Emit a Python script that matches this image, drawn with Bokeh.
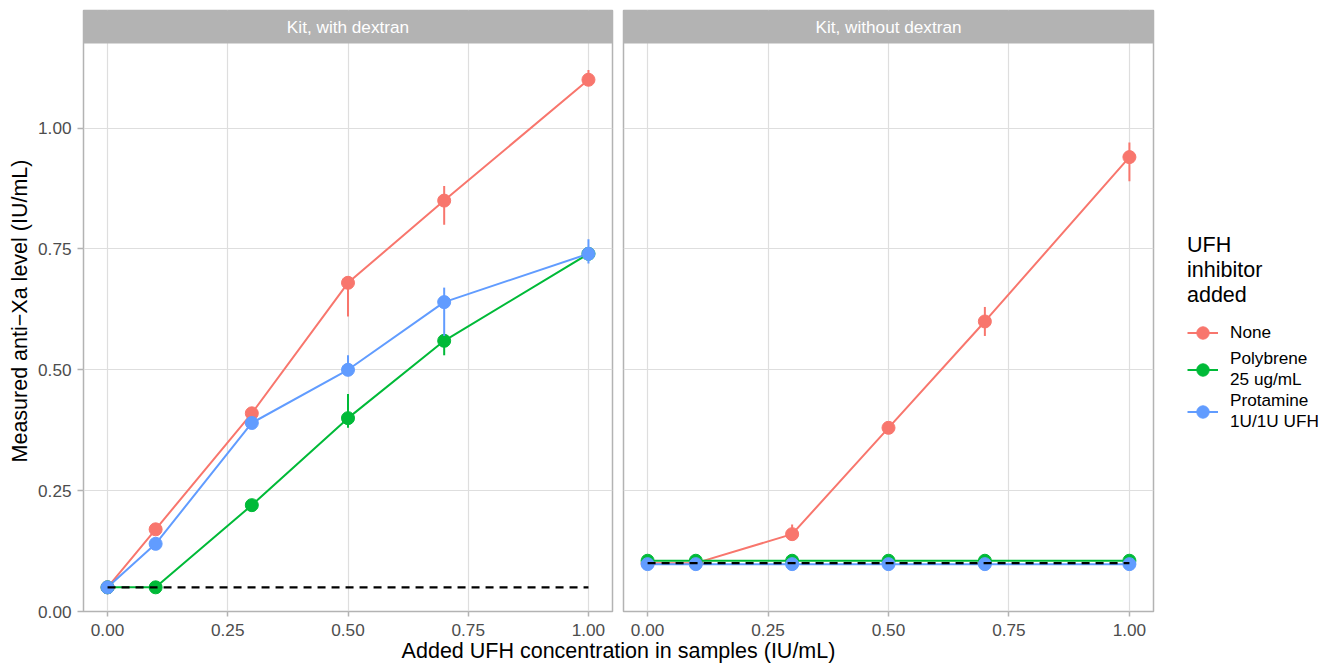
from bokeh.plotting import figure
from bokeh.models import (FixedTicker, PrintfTickFormatter, Legend, LegendItem,
                          Range1d)
from bokeh.layouts import row, column
from bokeh.core.properties import value
from bokeh.embed import file_html
from bokeh.resources import INLINE

# ---------------- data ----------------
conc = [0.0, 0.1, 0.3, 0.5, 0.7, 1.0]
facets = ["Kit, with dextran", "Kit, without dextran"]
inhibitors = ["None", "Polybrene\n25 ug/mL", "Protamine\n1U/1U UFH"]
colors = ["#F8766D", "#00BA38", "#619CFF"]
legend_title = "UFH\ninhibitor\nadded"
x_title = "Added UFH concentration in samples (IU/mL)"
y_title = "Measured anti\u2212Xa level (IU/mL)"
tick_vals = [0.0, 0.25, 0.5, 0.75, 1.0]

# Kit, with dextran
none_dex    = [0.05, 0.17, 0.41, 0.68, 0.85, 1.10]
none_dex_lo = [0.05, 0.17, 0.41, 0.61, 0.80, 1.09]
none_dex_hi = [0.05, 0.17, 0.41, 0.69, 0.88, 1.12]
poly_dex    = [0.05, 0.05, 0.22, 0.40, 0.56, 0.74]
poly_dex_lo = [0.05, 0.05, 0.22, 0.38, 0.53, 0.74]
poly_dex_hi = [0.05, 0.05, 0.22, 0.45, 0.57, 0.74]
prot_dex    = [0.05, 0.14, 0.39, 0.50, 0.64, 0.74]
prot_dex_lo = [0.05, 0.14, 0.39, 0.49, 0.57, 0.72]
prot_dex_hi = [0.05, 0.14, 0.39, 0.53, 0.67, 0.77]
baseline_dex = 0.05

# Kit, without dextran
none_nodex    = [0.10, 0.10, 0.16, 0.38, 0.60, 0.94]
none_nodex_lo = [0.10, 0.10, 0.15, 0.37, 0.57, 0.89]
none_nodex_hi = [0.10, 0.10, 0.18, 0.39, 0.63, 0.97]
poly_nodex    = [0.105, 0.105, 0.105, 0.105, 0.105, 0.105]
poly_nodex_lo = [0.105, 0.105, 0.105, 0.105, 0.105, 0.105]
poly_nodex_hi = [0.105, 0.105, 0.105, 0.105, 0.105, 0.105]
prot_nodex    = [0.098, 0.098, 0.098, 0.098, 0.098, 0.098]
prot_nodex_lo = [0.098, 0.098, 0.098, 0.098, 0.098, 0.098]
prot_nodex_hi = [0.098, 0.098, 0.098, 0.098, 0.098, 0.098]
baseline_nodex = 0.10

# ---------------- style / layout ----------------
FONT = "Liberation Sans"
GREY70 = "#B3B3B3"
GRID = "#DEDEDE"
TICKLAB = "#4D4D4D"
X_LO, X_HI = -0.05, 1.05
Y_LO, Y_HI = 0.0, 1.175
PANEL_H, STRIP_H = 568, 33
Y_TOP = Y_HI + STRIP_H * (Y_HI - Y_LO) / PANEL_H


def style_axis(ax, tick_out, standoff):
    ax.ticker = FixedTicker(ticks=tick_vals)
    ax.formatter = PrintfTickFormatter(format="%.2f")
    ax.axis_line_color = None
    ax.major_tick_line_color = GREY70
    ax.major_tick_line_width = 1.5
    ax.major_tick_out = tick_out
    ax.major_tick_in = 0
    ax.minor_tick_line_color = None
    ax.major_label_text_color = TICKLAB
    ax.major_label_text_font = FONT
    ax.major_label_text_font_size = "17.2px"
    ax.major_label_standoff = standoff


def make_panel(facet, series, baseline, frame_w, left, right, show_y):
    p = figure(frame_width=frame_w, frame_height=PANEL_H + STRIP_H,
               x_range=Range1d(X_LO, X_HI), y_range=Range1d(Y_LO, Y_TOP),
               toolbar_location=None, output_backend="svg",
               min_border_left=left, min_border_right=right,
               min_border_top=10, min_border_bottom=0)
    p.outline_line_color = GREY70
    p.outline_line_width = 1.5
    p.background_fill_color = "white"
    p.border_fill_color = "white"

    style_axis(p.xaxis[0], 5, 7)
    style_axis(p.yaxis[0], 6, 6)
    p.xgrid.grid_line_color = GRID
    p.xgrid.grid_line_width = 1.2
    p.ygrid.grid_line_color = GRID
    p.ygrid.grid_line_width = 1.2
    if show_y:
        ya = p.yaxis[0]
        ya.axis_label = y_title
        ya.axis_label_text_font = FONT
        ya.axis_label_text_font_size = "21.5px"
        ya.axis_label_text_font_style = "normal"
        ya.axis_label_text_color = "black"
        ya.axis_label_standoff = 3
    else:
        p.yaxis.visible = False

    line_rs, scat_rs = [], []
    for (y, lo, hi), col in zip(series, colors):
        line_rs.append(p.line(conc, y, line_color=col, line_width=2))
    for (y, lo, hi), col in zip(series, colors):
        p.segment(x0=conc, y0=lo, x1=conc, y1=hi, line_color=col, line_width=2)
        scat_rs.append(p.scatter(conc, y, size=13, fill_color=col, line_color=col))
    p.line([min(conc), max(conc)], [baseline, baseline], line_color="black",
           line_width=2.2, line_dash="8 6")

    # facet strip
    p.quad(left=[X_LO], right=[X_HI], bottom=[Y_HI], top=[Y_TOP],
           fill_color=GREY70, line_color=None)
    p.text(x=[(X_LO + X_HI) / 2], y=[(Y_HI + Y_TOP) / 2], text=[facet],
           text_color="white", text_font=value(FONT), text_font_size="17.2px",
           text_align="center", text_baseline="middle")
    return p, line_rs, scat_rs


series_dex = [(none_dex, none_dex_lo, none_dex_hi),
              (poly_dex, poly_dex_lo, poly_dex_hi),
              (prot_dex, prot_dex_lo, prot_dex_hi)]
series_nodex = [(none_nodex, none_nodex_lo, none_nodex_hi),
                (poly_nodex, poly_nodex_lo, poly_nodex_hi),
                (prot_nodex, prot_nodex_lo, prot_nodex_hi)]

p1, _, _ = make_panel(facets[0], series_dex, baseline_dex, 529, 83, 5, True)
p2, lrs, srs = make_panel(facets[1], series_nodex, baseline_nodex, 530, 6, 182, False)

items = [LegendItem(label=lab, renderers=[lr, sr])
         for lab, lr, sr in zip(inhibitors, lrs, srs)]
legend = Legend(items=items, title=legend_title, location=(34, 179),
                orientation="vertical",
                title_text_font=FONT, title_text_font_size="21.5px",
                title_text_font_style="normal", title_text_color="black",
                title_text_line_height=1.05, title_standoff=9,
                label_text_font=FONT, label_text_font_size="17.2px",
                label_text_color="black", label_text_line_height=0.92,
                glyph_width=31, glyph_height=31, label_standoff=12,
                spacing=-3, padding=5, margin=0,
                border_line_color=None, background_fill_alpha=0)
p2.add_layout(legend, "right")

# shared x-axis title
p3 = figure(frame_width=1070, frame_height=25, min_border_left=83,
            min_border_right=182, min_border_top=0, min_border_bottom=0,
            x_range=Range1d(0, 1), y_range=Range1d(0, 1),
            toolbar_location=None, output_backend="svg",
            x_axis_location=None, y_axis_location=None)
p3.outline_line_color = None
p3.xgrid.visible = False
p3.ygrid.visible = False
p3.text(x=[0.5], y=[0.5], text=[x_title], text_color="black",
        text_font=value(FONT), text_font_size="21.5px",
        text_align="center", text_baseline="middle")

layout = column(row(p1, p2), p3)
open("out.html", "w").write(file_html(layout, INLINE))
